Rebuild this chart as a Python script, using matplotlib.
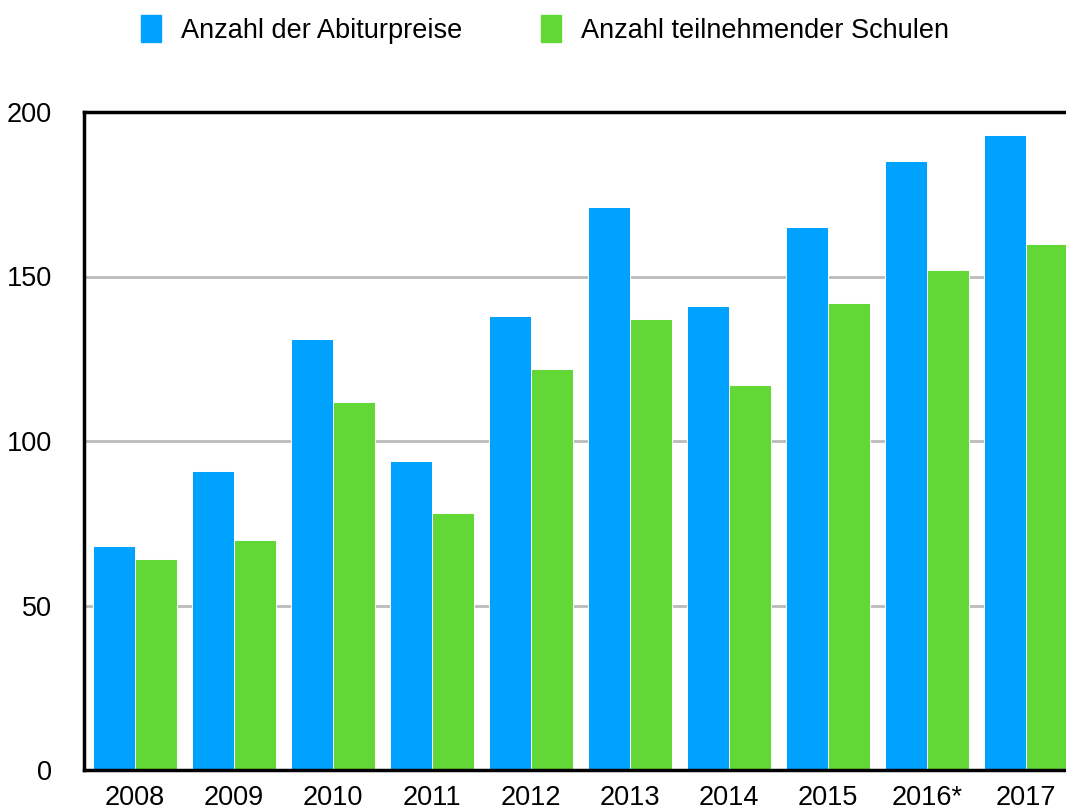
import numpy as np
import matplotlib.pyplot as plt
from matplotlib.patches import Rectangle

plt.rcParams['font.family'] = ['Liberation Sans', 'DejaVu Sans']

years = ["2008", "2009", "2010", "2011", "2012", "2013", "2014", "2015", "2016*", "2017"]
abiturpreise = [68, 91, 131, 94, 138, 171, 141, 165, 185, 193]
schulen = [64, 70, 112, 78, 122, 137, 117, 142, 152, 160]
labels = ["Anzahl der Abiturpreise", "Anzahl teilnehmender Schulen"]

blue = "#00a2ff"
green = "#61d836"

fig = plt.figure(figsize=(10.66, 8.10), dpi=100)
# axes run a bit past the right edge, like the cropped original
ax = fig.add_axes([84 / 1066, (810 - 770) / 810, (1085 - 84) / 1066, (770 - 112) / 810])

x = np.arange(len(years))
w = 0.42
ax.bar(x - w / 2, abiturpreise, width=w, color=blue, edgecolor="white", linewidth=0.7, zorder=3)
ax.bar(x + w / 2, schulen, width=w, color=green, edgecolor="white", linewidth=0.7, zorder=3)

ax.set_xlim(-(135 - 84) / 99, (1085 - 135) / 99)
ax.set_ylim(0, 200)
ax.set_yticks([0, 50, 100, 150, 200])
ax.set_xticks(x)
ax.set_xticklabels(years)
ax.tick_params(axis="both", length=0, labelsize=19.5)
ax.tick_params(axis="y", pad=23)
ax.tick_params(axis="x", pad=11)
ax.grid(axis="y", color="#bbbbbb", linewidth=2, zorder=0)

for s in ["left", "bottom", "top"]:
    ax.spines[s].set_linewidth(2.5)
    ax.spines[s].set_color("black")
    ax.spines[s].set_zorder(4)
ax.spines["right"].set_visible(False)

# legend, drawn by hand to match the swatch sizes
for px, col, lab in [(141, blue, labels[0]), (541, green, labels[1])]:
    fig.patches.append(Rectangle((px / 1066, 1 - 42 / 810), 20 / 1066, 27 / 810,
                                 transform=fig.transFigure, color=col))
    fig.text((px + 40) / 1066, 1 - 38 / 810, lab, fontsize=19.5, va="baseline", ha="left")

fig.savefig("out.png", dpi=100)
